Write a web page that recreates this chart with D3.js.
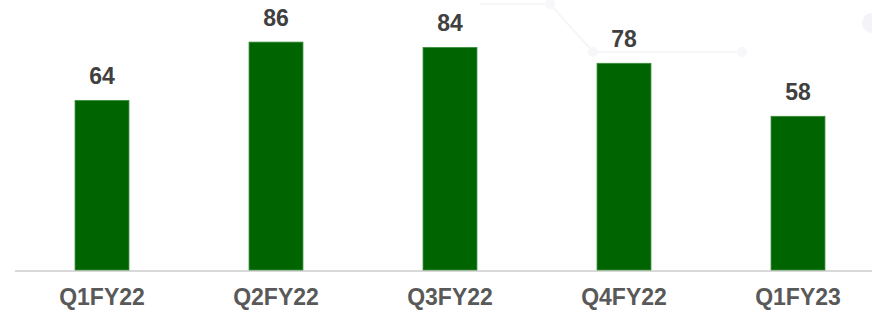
<!DOCTYPE html>
<html>
<head>
<meta charset="utf-8">
<script src="https://cdn.jsdelivr.net/npm/d3@7"></script>
<style>
  body { margin: 0; background: #fff; }
  svg { display: block; }
</style>
</head>
<body>
<script>
// datos del grafico
var quarters = ["Q1FY22", "Q2FY22", "Q3FY22", "Q4FY22", "Q1FY23"];
var values = [64, 86, 84, 78, 58];

var width = 872;
var height = 313;
var baseY = 270;

var svg = d3.select("body").append("svg")
  .attr("width", width)
  .attr("height", height)
  .attr("font-family", "'Liberation Sans', Arial, sans-serif");

// adorno de fondo (lineas tenues arriba a la derecha)
var deco = svg.append("g")
  .attr("stroke", "#f6f6f8")
  .attr("fill", "none")
  .attr("stroke-width", 2);
deco.append("path").attr("d", "M480,4H550L593,52H742");
deco.selectAll("circle")
  .data([[550, 4], [593, 52], [742, 52]])
  .join("circle")
    .attr("cx", d => d[0])
    .attr("cy", d => d[1])
    .attr("r", 5)
    .attr("fill", "#f7f7f9")
    .attr("stroke", "none");
deco.append("circle")
  .attr("cx", 872).attr("cy", 23).attr("r", 10)
  .attr("fill", "#f3f3f8").attr("stroke", "none");

// escalas
var x = d3.scaleBand()
  .domain(quarters)
  .range([15, 885])
  .paddingInner(0.69)
  .paddingOuter(0.345);

var y = d3.scaleLinear()
  .domain([0, 100])
  .range([baseY, 5]);

// eje x
svg.append("line")
  .attr("x1", 15)
  .attr("x2", width)
  .attr("y1", baseY + 1)
  .attr("y2", baseY + 1)
  .attr("stroke", "#d9d9d9")
  .attr("stroke-width", 2);

var data = quarters.map((q, i) => ({ q: q, v: values[i] }));

// barras
svg.append("g")
  .selectAll("rect")
  .data(data)
  .join("rect")
    .attr("x", d => x(d.q))
    .attr("y", d => y(d.v))
    .attr("width", x.bandwidth())
    .attr("height", d => baseY - y(d.v))
    .attr("fill", "#006400")
    .attr("stroke", "#3f8f3f")
    .attr("stroke-width", 0.8);

// etiquetas de valor
svg.append("g")
  .attr("text-anchor", "middle")
  .attr("font-weight", "bold")
  .attr("font-size", 23)
  .attr("fill", "#404040")
  .selectAll("text")
  .data(data)
  .join("text")
    .attr("x", d => x(d.q) + x.bandwidth() / 2)
    .attr("y", d => y(d.v) - 16)
    .text(d => d.v);

// etiquetas de categoria
svg.append("g")
  .attr("text-anchor", "middle")
  .attr("font-weight", "bold")
  .attr("font-size", 23)
  .attr("fill", "#595959")
  .selectAll("text")
  .data(quarters)
  .join("text")
    .attr("x", d => x(d) + x.bandwidth() / 2)
    .attr("y", 305)
    .text(d => d);
</script>
</body>
</html>
